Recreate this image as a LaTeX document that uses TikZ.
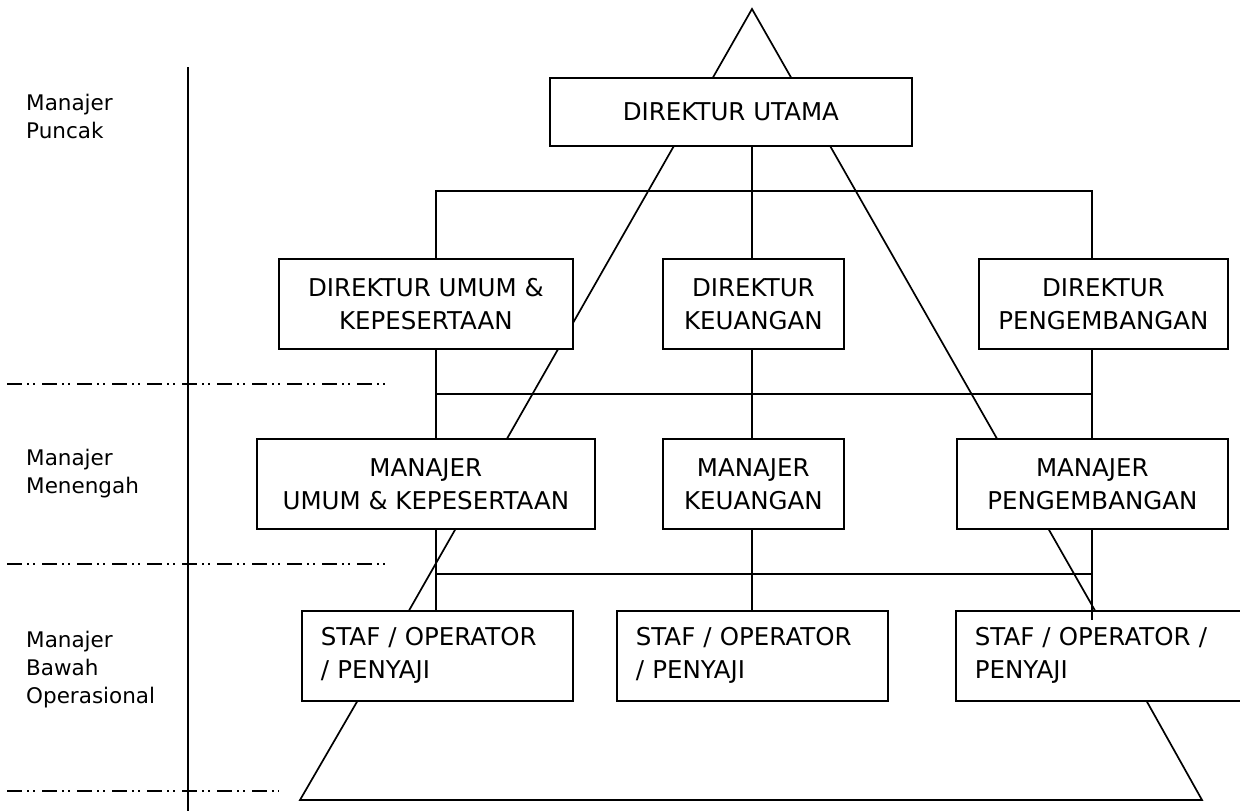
\documentclass[tikz,border=0pt]{standalone}
\usepackage{fontspec}
\setmainfont{DejaVu Sans}
\begin{document}
\begin{tikzpicture}[x=1pt,y=-1pt,
  ln/.style={line width=1.7pt},
  lvl/.style={line width=2pt, dash pattern=on 15pt off 5pt on 2pt off 4pt on 2pt off 7pt},
  box/.style={draw, fill=white, line width=1.7pt, inner sep=0pt, align=center,
    font=\fontsize{24.5}{33}\selectfont, anchor=north west, minimum height=90},
  lbox/.style={box, align=left, inner xsep=19pt, inner ysep=0pt},
  lab/.style={anchor=north west, inner sep=0pt, align=left,
    font=\fontsize{21.5}{28}\selectfont}]
\useasboundingbox (0,0) rectangle (1240,811);
% pyramid outline
\draw[ln] (752,9) -- (358,700) -- (300,800) -- (1202,800) -- (1146,700) -- cycle;
% level axis and separators
\draw[ln] (188,67) -- (188,811);
\draw[lvl] (7,384) -- (387,384);
\draw[lvl] (7,564) -- (387,564);
\draw[lvl] (7,791) -- (279,791);
% level labels
\node[lab] (lp) at (26,94) {Manajer\\Puncak};
\node[lab] (lm) at (26,449) {Manajer\\Menengah};
\node[lab] (lb) at (26,631) {Manajer\\Bawah\\Operasional};
% boxes
\node[box, minimum width=362, minimum height=68] (du) at (549,77) {DIREKTUR UTAMA};
\node[box, minimum width=294] (d1) at (278,258) {DIREKTUR UMUM \&\\KEPESERTAAN};
\node[box, minimum width=181] (d2) at (662,258) {DIREKTUR\\KEUANGAN};
\node[box, minimum width=249] (d3) at (978,258) {DIREKTUR\\PENGEMBANGAN};
\node[box, minimum width=338] (m1) at (256,438) {MANAJER\\UMUM \& KEPESERTAAN};
\node[box, minimum width=181] (m2) at (662,438) {MANAJER\\KEUANGAN};
\node[box, minimum width=271] (m3) at (956,438) {MANAJER\\PENGEMBANGAN};
\node[lbox, text width=233] (s1) at (301,610) {STAF / OPERATOR\\/ PENYAJI};
\node[lbox, text width=233] (s2) at (616,610) {STAF / OPERATOR\\/ PENYAJI};
\node[lbox, text width=251] (s3) at (955,610) {STAF / OPERATOR /\\PENYAJI};
% bus coordinates
\coordinate (t1) at (436,191); \coordinate (t2) at (752,191); \coordinate (t3) at (1092,191);
\coordinate (b1) at (436,394); \coordinate (b2) at (752,394); \coordinate (b3) at (1092,394);
\coordinate (u1) at (436,574); \coordinate (u2) at (752,574); \coordinate (u3) at (1092,574);
\coordinate (e3) at (1092,620);
% connectors
\draw[ln] (du.south -| t2) -- (d2.north -| t2);
\draw[ln] (d1.north -| t1) -- (t1) -- (t3) -- (d3.north -| t3);
\draw[ln] (b1) -- (b3);
\draw[ln] (d1.south -| b1) -- (m1.north -| b1);
\draw[ln] (d2.south -| b2) -- (m2.north -| b2);
\draw[ln] (d3.south -| b3) -- (m3.north -| b3);
\draw[ln] (u1) -- (u3);
\draw[ln] (m1.south -| u1) -- (s1.north -| u1);
\draw[ln] (m2.south -| u2) -- (s2.north -| u2);
\draw[ln] (m3.south -| u3) -- (e3);
\end{tikzpicture}
\end{document}
